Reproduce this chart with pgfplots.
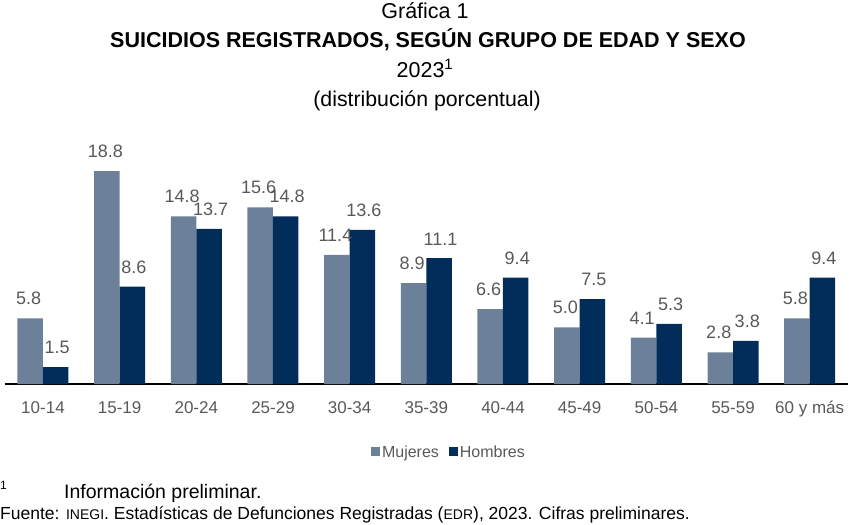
\documentclass[border=0pt]{standalone}
\usepackage{pgfplots}
\pgfplotsset{compat=1.18}
\usepackage{fontspec}
\setmainfont{Liberation Sans}
\definecolor{muj}{HTML}{6C8199}
\definecolor{hom}{HTML}{022D5A}
\definecolor{txtgray}{HTML}{595959}
\begin{document}
\begin{tikzpicture}
\path[use as bounding box] (0,0) rectangle (850bp,-525bp);
% titles
\node[anchor=base, inner sep=0pt] at (425bp,-18bp) {\fontsize{21.5bp}{24bp}\selectfont Gráfica 1};
\node[anchor=base, inner sep=0pt] at (428bp,-47bp) {\fontsize{21.5bp}{24bp}\selectfont\bfseries SUICIDIOS REGISTRADOS, SEGÚN GRUPO DE EDAD Y SEXO};
\node[anchor=base, inner sep=0pt] at (425bp,-77bp) {\fontsize{21.5bp}{24bp}\selectfont 2023\textsuperscript{1}};
\node[anchor=base, inner sep=0pt] at (427bp,-106bp) {\fontsize{21.3bp}{24bp}\selectfont (distribución porcentual)};
\begin{axis}[
  at={(4.65bp,-384bp)}, anchor=south west,
  scale only axis, width=843.35bp, height=226.6bp,
  xmin=-0.5, xmax=10.5, ymin=0, ymax=20,
  ybar=0pt, bar width=25.5bp,
  axis x line=bottom, axis y line=none,
  x axis line style={-, line width=2.4bp, black},
  major tick length=0pt,
  xtick=data,
  xticklabels={10-14,15-19,20-24,25-29,30-34,35-39,40-44,45-49,50-54,55-59,60 y más},
  xticklabel style={font=\fontsize{17bp}{20bp}\selectfont, text=txtgray, text height=13bp, text depth=4bp, yshift=-13bp},
  ytick=\empty,
  clip=false,
  nodes near coords,
  /pgf/number format/.cd, fixed, fixed zerofill, precision=1, assume math mode=true,
  /pgfplots/.cd,
  every node near coord/.append style={font=\fontsize{18bp}{21bp}\selectfont, text=txtgray, inner sep=0pt, yshift=13bp},
  legend columns=2,
  legend style={at={(0.5268,-0.30)}, anchor=center, draw=none, fill=none,
    font=\fontsize{16bp}{19bp}\selectfont, text=txtgray,
    /tikz/every even column/.append style={column sep=8bp}},
  legend image code/.code={\fill[#1] (0bp,-4.5bp) rectangle (9bp,4.5bp);},
]
\addplot[fill=muj, draw=none, every node near coord/.append style={xshift=-1.5bp}] coordinates {
  (0,5.8) (1,18.8) (2,14.8) (3,15.6) (4,11.4) (5,8.9) (6,6.6) (7,5.0) (8,4.1) (9,2.8) (10,5.8)};
\addlegendentry{Mujeres}
\addplot[fill=hom, draw=none, every node near coord/.append style={xshift=1.5bp}] coordinates {
  (0,1.5) (1,8.6) (2,13.7) (3,14.8) (4,13.6) (5,11.1) (6,9.4) (7,7.5) (8,5.3) (9,3.8) (10,9.4)};
\addlegendentry{Hombres}
\end{axis}
% footnotes
\node[anchor=base west, inner sep=0pt] at (0bp,-489bp) {\fontsize{12bp}{14bp}\selectfont 1};
\node[anchor=base west, inner sep=0pt] at (64bp,-498bp) {\fontsize{19.5bp}{22bp}\selectfont Información preliminar.};
\node[anchor=base west, inner sep=0pt] at (0bp,-519bp) {\fontsize{17.5bp}{20bp}\selectfont Fuente: {\fontsize{14bp}{16bp}\selectfont INEGI}. Estadísticas de Defunciones Registradas ({\fontsize{14bp}{16bp}\selectfont EDR}), 2023. Cifras preliminares.};
\end{tikzpicture}
\end{document}
